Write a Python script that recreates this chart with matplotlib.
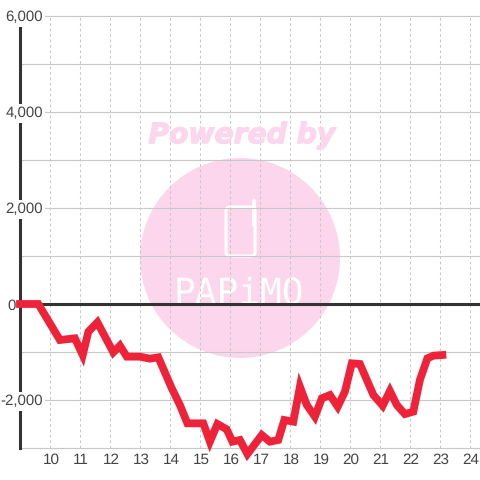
import matplotlib
matplotlib.use("Agg")
import matplotlib.pyplot as plt
import matplotlib.patheffects as pe
from matplotlib.patches import Circle, FancyBboxPatch
from matplotlib.lines import Line2D
from matplotlib.transforms import IdentityTransform, ScaledTranslation

plt.rcParams["font.family"] = ["Liberation Sans", "DejaVu Sans"]
plt.rcParams["text.hinting"] = "no_hinting"

# hours of the day vs. value
hours = [9.0, 9.61, 10.33, 10.83, 11.09, 11.28, 11.58, 12.11, 12.33, 12.56, 13.0, 13.33,
         13.61, 14.06, 14.33, 14.58, 15.11, 15.33, 15.58, 15.89, 16.08, 16.33, 16.58,
         17.06, 17.33, 17.61, 17.81, 18.11, 18.33, 18.56, 18.83, 19.06, 19.33, 19.59,
         19.83, 20.06, 20.33, 20.78, 21.09, 21.33, 21.56, 21.83, 22.11, 22.33, 22.58,
         22.78, 23.08]
values = [0, 0, -750, -715, -1063, -576, -382, -1007, -868, -1097, -1097, -1139,
          -1111, -1757, -2104, -2486, -2486, -2868, -2500, -2611, -2868, -2833, -3125,
          -2729, -2868, -2833, -2417, -2451, -1722, -2104, -2347, -1965, -1896, -2139,
          -1826, -1236, -1250, -1896, -2118, -1812, -2104, -2292, -2243, -1583, -1132,
          -1076, -1063]

x_ticks = list(range(10, 25))
y_grid = list(range(-3000, 7000, 1000))
y_labels = {6000: "6,000", 4000: "4,000", 2000: "2,000", 0: "0", -2000: "-2,000"}

GRID = "#c8c8c8"
DARK = "#333333"
TEXT = "#444444"
PINK = "#fcd6ec"
RED = "#ee2238"

fig = plt.figure(figsize=(4.8, 4.8), dpi=100, facecolor="white")
ax = fig.add_axes([20 / 480, 32 / 480, 460 / 480, 432 / 480])
ax.set_xlim(9, 9 + 460 / 30)
ax.set_ylim(-3000, 6000)
ax.set_axisbelow("line")

for side in ["top", "right", "bottom"]:
    ax.spines[side].set_visible(False)
ax.spines["left"].set_linewidth(2.2)
ax.spines["left"].set_color(DARK)

ax.set_yticks(y_grid)
ax.set_yticklabels([])
ax.set_xticks(x_ticks)
ax.tick_params(axis="both", length=0)
ax.tick_params(axis="x", labelsize=11, labelcolor=TEXT, pad=3.5)
# x labels sit a pixel right of the grid lines
shift = ScaledTranslation(1 / 100, 0, fig.dpi_scale_trans)
for lab in ax.get_xticklabels():
    lab.set_transform(lab.get_transform() + shift)
ax.grid(axis="y", color=GRID, lw=0.8, clip_on=False)
ax.grid(axis="x", color=GRID, lw=0.75, linestyle=(0, (2.6, 2.6)))

# watermark, placed in pixels
px = IdentityTransform()
ax.add_patch(Circle((240, 480 - 258), 100, transform=px, fc=PINK, ec="none", zorder=1, clip_on=False))
ax.add_patch(FancyBboxPatch((226, 480 - 256), 29, 49, boxstyle="round,pad=0,rounding_size=4", transform=px,
                            fc="none", ec="white", lw=2.2, zorder=1.1, clip_on=False))
ax.add_line(Line2D([254, 254], [480 - 225, 480 - 201], transform=px, color="white", lw=2.8,
                   solid_capstyle="round", zorder=1.1, clip_on=False))
powered = fig.text(242 / 480, 1 - 135.5 / 480, "Powered by", family="DejaVu Sans", weight="bold", style="italic",
                   fontsize=20.3, color=PINK, ha="center", va="center", zorder=1)
powered.set_path_effects([pe.withStroke(linewidth=0.9, foreground=PINK)])
ax.annotate("PAPiMO", xy=(239, 480 - 303), xycoords="figure pixels", family="DejaVu Sans Mono",
            fontsize=26, color="white", ha="center", va="baseline", zorder=1.1, annotation_clip=False)

ax.axhline(0, color=DARK, lw=2.2, zorder=2.6)

# y labels have a white box that cuts the left axis line
for v, lab in y_labels.items():
    right = 16 if v == 0 else 43
    ax.annotate(lab, xy=(right, 0), xycoords="figure pixels", annotation_clip=False,
                xytext=(right, 480 - (304 - v * 0.048)), textcoords="figure pixels",
                fontsize=10.8, color=TEXT, ha="right", va="center_baseline", zorder=3,
                bbox=dict(fc="white", ec="none", pad=1.5))

ax.plot(hours, values, color=RED, lw=5.6, solid_joinstyle="miter", solid_capstyle="projecting",
        clip_on=False, zorder=4)

fig.savefig("out.png", dpi=100, facecolor="white")
